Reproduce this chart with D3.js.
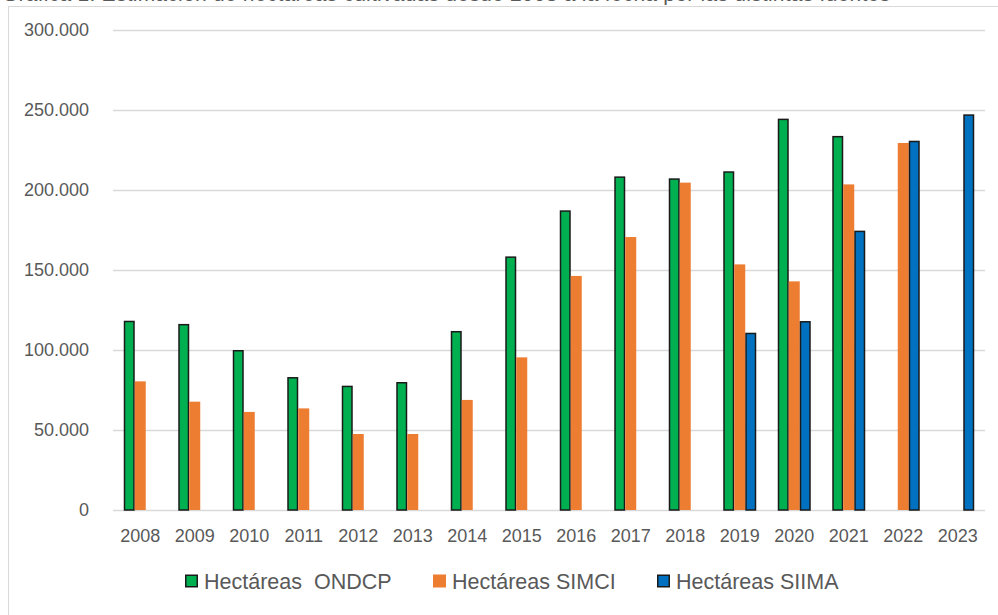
<!DOCTYPE html>
<html>
<head>
<meta charset="utf-8">
<script src="https://cdn.jsdelivr.net/npm/d3@7"></script>
<style>
  html, body { margin: 0; padding: 0; background: #ffffff; overflow: hidden; }
  svg { display: block; }
  text { font-family: "Liberation Sans", Arial, sans-serif; }
</style>
</head>
<body>
<svg id="chart" width="998" height="615"></svg>
<script>
// ---- data ----
const years = ["2008","2009","2010","2011","2012","2013","2014","2015","2016","2017","2018","2019","2020","2021","2022","2023"];
const ondcp = [118300,116300,100000,83100,77700,80000,111900,158500,187300,208500,207300,211700,244600,233800,null,null];
const simci = [80400,67700,61300,63500,47500,47500,68800,95400,146300,170600,204600,153500,142900,203500,229400,null];
const siima = [null,null,null,null,null,null,null,null,null,null,null,110800,118100,174600,230800,247300];
const seriesNames = ["Hectáreas  ONDCP","Hectáreas SIMCI","Hectáreas SIIMA"];
const seriesColors = ["#00B050","#ED7D31","#0070C0"];
const yTicks = [0,50000,100000,150000,200000,250000,300000];
const titleText = "Gráfica 1. Estimación de hectáreas cultivadas desde 2008 a la fecha por las distintas fuentes";

const svg = d3.select("#chart");
const W = 998, H = 615;

// partial (clipped) title at very top, as in the reference
svg.append("text")
  .attr("x", 2).attr("y", 0.8)
  .attr("font-size", 21)
  .attr("fill", "#595959")
  .attr("textLength", 888)
  .attr("lengthAdjust", "spacing")
  .text(titleText);

// chart frame
svg.append("rect")
  .attr("x", 8.5).attr("y", 6.5)
  .attr("width", W + 10).attr("height", H + 10)
  .attr("fill", "#ffffff")
  .attr("stroke", "#D9D9D9")
  .attr("stroke-width", 1);

const plotLeft = 113, plotRight = 985, plotTop = 30, plotBottom = 510;

const x0 = d3.scaleBand().domain(years).range([plotLeft, plotRight]).padding(0);
const groupW = 33;
const x1 = d3.scaleBand().domain([0,1,2]).range([0, groupW]).padding(0);
const y = d3.scaleLinear().domain([0, 300000]).range([plotBottom, plotTop]);

const fmt = v => v === 0 ? "0" : d3.format(",")(v).replace(/,/g, ".");

// gridlines
svg.append("g").selectAll("line").data(yTicks).join("line")
  .attr("x1", plotLeft).attr("x2", plotRight)
  .attr("y1", d => Math.round(y(d)) + 0.5).attr("y2", d => Math.round(y(d)) + 0.5)
  .attr("stroke", "#D9D9D9").attr("stroke-width", 1.5);

// y axis labels
svg.append("g").selectAll("text").data(yTicks).join("text")
  .attr("x", 89).attr("y", d => y(d))
  .attr("dy", "0.36em")
  .attr("text-anchor", "end")
  .attr("font-size", 18)
  .attr("fill", "#595959")
  .text(fmt);

// bars
const allSeries = [ondcp, simci, siima];
allSeries.forEach((vals, si) => {
  const data = years.map((yr, i) => ({ yr, v: vals[i] })).filter(d => d.v != null);
  const outlined = si !== 1;
  svg.append("g").selectAll("rect").data(data).join("rect")
    .attr("x", d => x0(d.yr) + x0.bandwidth() / 2 - groupW / 2 + x1(si) + (outlined ? 0.75 : 0))
    .attr("width", x1.bandwidth() - (outlined ? 1.5 : 0))
    .attr("y", d => y(d.v) + (outlined ? 0.75 : 0))
    .attr("height", d => y(0) - y(d.v) - (outlined ? 0.75 : 0))
    .attr("fill", seriesColors[si])
    .attr("stroke", outlined ? "#1a1a1a" : "none")
    .attr("stroke-width", outlined ? 1.5 : 0);
});

// x axis labels
svg.append("g").selectAll("text").data(years).join("text")
  .attr("x", d => x0(d) + x0.bandwidth() / 2)
  .attr("y", 542)
  .attr("text-anchor", "middle")
  .attr("font-size", 18)
  .attr("fill", "#595959")
  .text(d => d);

// legend
const legendX = [185, 433, 657];
const legendY = 581;
seriesNames.forEach((name, si) => {
  const outlined = si !== 1;
  const g = svg.append("g");
  g.append("rect")
    .attr("x", legendX[si] + (outlined ? 0.75 : 0))
    .attr("y", legendY - 6.5 + (outlined ? 0.75 : 0))
    .attr("width", 13 - (outlined ? 1.5 : 0))
    .attr("height", 13 - (outlined ? 1.5 : 0))
    .attr("fill", seriesColors[si])
    .attr("stroke", outlined ? "#1a1a1a" : "none")
    .attr("stroke-width", 1.5);
  g.append("text")
    .attr("x", legendX[si] + 19)
    .attr("y", legendY)
    .attr("dy", "0.36em")
    .attr("font-size", 21.5)
    .attr("fill", "#595959")
    .attr("xml:space", "preserve")
    .style("white-space", "pre")
    .text(name);
});
</script>
</body>
</html>
